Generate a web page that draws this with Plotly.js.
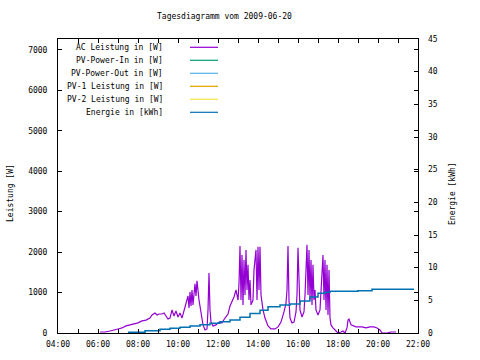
<!DOCTYPE html>
<html>
<head>
<meta charset="utf-8">
<script src="https://cdn.plot.ly/plotly-3.0.1.min.js"></script>
<style>html,body{margin:0;padding:0;background:#fff}#chart{width:480px;height:360px}</style>
</head>
<body>
<div id="chart"></div>
<script>
var day = '2009-06-20';
var seriesNames = ['AC Leistung in [W]', 'PV-Power-In in [W]', 'PV-Power-Out in [W]', 'PV-1 Leistung in [W]', 'PV-2 Leistung in [W]', 'Energie in [kWh]'];
var seriesColors = ['#9400D3', '#009E73', '#56B4E9', '#E69F00', '#F0E442', '#0072B2'];

var acTimes = ['06:06','06:21','06:36','06:45','07:00','07:12','07:24','07:36','07:48','08:00','08:12','08:24','08:36','08:42','08:51','08:57','09:03','09:12','09:18','09:24','09:30','09:36','09:42','09:48','09:54','10:00','10:06','10:12','10:18','10:24','10:30','10:33','10:36','10:39','10:42','10:45','10:51','10:54','10:57','11:03','11:09','11:15','11:21','11:27','11:30','11:33','11:36','11:39','11:45','11:54','12:03','12:12','12:21','12:30','12:36','12:42','12:48','12:54','13:00','13:03','13:06','13:09','13:12','13:15','13:18','13:21','13:24','13:27','13:30','13:33','13:36','13:39','13:45','13:48','13:51','13:54','13:57','14:00','14:03','14:06','14:09','14:15','14:21','14:30','14:39','14:51','15:00','15:09','15:18','15:24','15:27','15:30','15:33','15:36','15:42','15:48','15:54','15:57','16:00','16:03','16:06','16:12','16:18','16:21','16:24','16:27','16:30','16:33','16:36','16:39','16:42','16:45','16:48','16:51','16:54','17:00','17:06','17:09','17:12','17:15','17:18','17:21','17:24','17:27','17:30','17:33','17:36','17:39','17:45','17:54','18:00','18:09','18:15','18:21','18:27','18:30','18:33','18:39','18:45','18:54','19:12','19:24','19:36','19:48','19:57','20:06','20:12','20:18','20:27','20:39','20:54'];
var acPower = [25,25,50,75,100,125,175,200,220,250,300,320,370,445,495,445,470,470,495,420,345,370,570,420,545,395,495,370,570,695,915,620,1015,670,1065,695,1215,915,1290,815,445,200,75,100,570,1485,570,270,175,200,270,250,370,470,670,765,890,1065,815,1215,2150,815,1930,695,1805,940,2055,1065,1685,815,1310,695,815,1560,1930,2055,815,2130,1065,2130,940,570,370,175,100,100,150,270,520,740,1065,2150,815,370,250,270,520,940,2105,1065,570,395,520,940,1930,2180,940,2055,815,1805,695,1685,815,1065,570,445,570,1065,1755,1930,815,1805,570,1685,445,1560,370,200,125,50,0,25,50,0,125,320,345,200,175,150,150,125,150,150,125,75,0,0,0,25,25];

var enTimes = ['07:30','08:21','09:06','09:36','10:06','10:36','11:06','11:36','12:06','12:36','13:06','13:36','14:06','14:30','15:06','15:36','16:06','16:36','17:00','17:21','17:36','19:00','19:42','21:48'];
var enKWh = [0.1,0.35,0.57,0.72,0.87,1.07,1.27,1.48,1.73,1.99,2.4,3.0,3.5,4.0,4.3,4.45,4.9,5.5,6.1,6.25,6.4,6.45,6.7,6.7];

var yTicks = [0,1000,2000,3000,4000,5000,6000,7000];
var y2Ticks = [0,5,10,15,20,25,30,35,40,45];

var titleText = 'Tagesdiagramm vom 2009-06-20';
var yTitle = 'Leistung [W]';
var y2Title = 'Energie [kWh]';

function toDate(t){ return day + ' ' + t; }

var font = {family: 'DejaVu Sans Mono, monospace', size: 8, color: '#000'};

var traces = [
  {x: acTimes.map(toDate), y: acPower, type: 'scatter', mode: 'lines', name: seriesNames[0],
   line: {color: seriesColors[0], width: 1.2}, yaxis: 'y', showlegend: false, hoverinfo: 'none'},
  {x: enTimes.map(toDate), y: enKWh, type: 'scatter', mode: 'lines', name: seriesNames[5],
   line: {color: seriesColors[5], width: 1.5, shape: 'hv'}, yaxis: 'y2', showlegend: false, hoverinfo: 'none'}
];

// plot area in px: left 58, right 418, top 39, bottom 333
var L = 58, R = 418, T = 39, B = 333;
function px2x(p){ return (p - L) / (R - L); }
function px2y(p){ return (B - p) / (B - T); }

var annotations = [
  {text: titleText, xref: 'paper', yref: 'paper', x: px2x(224), y: px2y(17), showarrow: false, font: font, xanchor: 'center', yanchor: 'middle'},
  {text: yTitle, xref: 'paper', yref: 'paper', x: px2x(10), y: px2y(193), showarrow: false, font: font, textangle: -90, xanchor: 'center', yanchor: 'middle'},
  {text: y2Title, xref: 'paper', yref: 'paper', x: px2x(452), y: px2y(194), showarrow: false, font: font, textangle: -90, xanchor: 'center', yanchor: 'middle'}
];
var shapes = [];
for (var i = 0; i < seriesNames.length; i++) {
  var rowY = 47.3 + i * 13;
  annotations.push({text: seriesNames[i], xref: 'paper', yref: 'paper', x: px2x(165), y: px2y(rowY), showarrow: false, font: font, xanchor: 'right', yanchor: 'middle'});
  shapes.push({type: 'line', xref: 'paper', yref: 'paper', x0: px2x(190), x1: px2x(218), y0: px2y(rowY), y1: px2y(rowY), line: {color: seriesColors[i], width: 1.2}});
}

var layout = {
  width: 480, height: 360,
  margin: {l: L, r: 480 - R, t: T, b: 360 - B, pad: 0},
  paper_bgcolor: '#fff', plot_bgcolor: '#fff',
  showlegend: false,
  font: font,
  xaxis: {
    type: 'date', range: [toDate('04:00'), toDate('22:00')],
    dtick: 7200000, tick0: toDate('04:00'), tickformat: '%H:%M',
    ticks: 'inside', ticklen: 4, tickcolor: '#000', tickwidth: 1,
    minor: {dtick: 3600000, ticks: 'inside', ticklen: 4, tickcolor: '#000'},
    showline: true, linecolor: '#000', linewidth: 1, mirror: 'ticks',
    showgrid: false, zeroline: false, tickfont: font, ticklabelstandoff: 3
  },
  yaxis: {
    range: [0, 7270], tickvals: yTicks, ticktext: yTicks.map(String),
    ticks: 'inside', ticklen: 4, tickcolor: '#000',
    showline: true, linecolor: '#000', linewidth: 1, mirror: 'ticks',
    showgrid: false, zeroline: false, tickfont: font, ticklabelstandoff: 8
  },
  yaxis2: {
    overlaying: 'y', side: 'right', range: [0, 45], tickvals: y2Ticks, ticktext: y2Ticks.map(String),
    ticks: 'inside', ticklen: 4, tickcolor: '#000',
    showline: false, showgrid: false, zeroline: false, tickfont: font, ticklabelstandoff: 9
  },
  annotations: annotations,
  shapes: shapes
};

Plotly.newPlot('chart', traces, layout, {staticPlot: true, displayModeBar: false});
</script>
</body>
</html>
